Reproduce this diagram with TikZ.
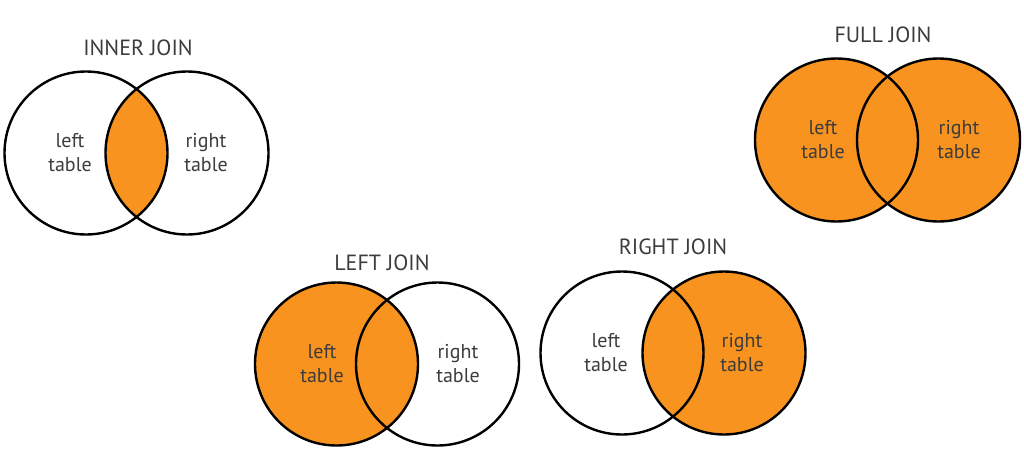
\documentclass[tikz,border=0pt]{standalone}
\usepackage{fontspec}
\setmainfont{PT Sans}
\definecolor{joinorange}{RGB}{247,147,30}
\definecolor{txtgray}{RGB}{60,60,60}
\begin{document}
\begin{tikzpicture}[x=1pt,y=-1pt,
  ring/.style={draw=black,line width=2.4pt},
  lbl/.style={text=txtgray,align=center,font=\fontsize{20}{24}\selectfont,inner sep=0pt},
  ttl/.style={text=txtgray,font=\fontsize{22}{26}\selectfont,inner sep=0pt}]
\useasboundingbox (0,0) rectangle (1024,464);
\def\r{81.5}
% ---------- INNER JOIN ----------
\coordinate (iL) at (86,153);
\coordinate (iR) at (187,153);
\begin{scope}
  \clip (iL) circle (\r);
  \fill[joinorange] (iR) circle (\r);
\end{scope}
\draw[ring] (iL) circle (\r);
\draw[ring] (iR) circle (\r);
\node[ttl] (tInner) at (138,48) {INNER JOIN};
\node[lbl] (iLt) at (70,153) {left\\table};
\node[lbl] (iRt) at (206,153) {right\\table};
% ---------- FULL JOIN ----------
\coordinate (fL) at (836.5,140);
\coordinate (fR) at (938.5,140);
\fill[joinorange] (fL) circle (\r);
\fill[joinorange] (fR) circle (\r);
\draw[ring] (fL) circle (\r);
\draw[ring] (fR) circle (\r);
\node[ttl] (tFull) at (883,35) {FULL JOIN};
\node[lbl] (fLt) at (823,140) {left\\table};
\node[lbl] (fRt) at (959,140) {right\\table};
% ---------- LEFT JOIN ----------
\coordinate (lL) at (336.5,364);
\coordinate (lR) at (437.5,364);
\fill[joinorange] (lL) circle (\r);
\draw[ring] (lL) circle (\r);
\draw[ring] (lR) circle (\r);
\node[ttl] (tLeft) at (382,263) {LEFT JOIN};
\node[lbl] (lLt) at (322,364) {left\\table};
\node[lbl] (lRt) at (458,364) {right\\table};
% ---------- RIGHT JOIN ----------
\coordinate (rL) at (622,353);
\coordinate (rR) at (724,353);
\fill[joinorange] (rR) circle (\r);
\draw[ring] (rL) circle (\r);
\draw[ring] (rR) circle (\r);
\node[ttl] (tRight) at (673,247) {RIGHT JOIN};
\node[lbl] (rLt) at (606,353) {left\\table};
\node[lbl] (rRt) at (742,353) {right\\table};
\end{tikzpicture}
\end{document}
